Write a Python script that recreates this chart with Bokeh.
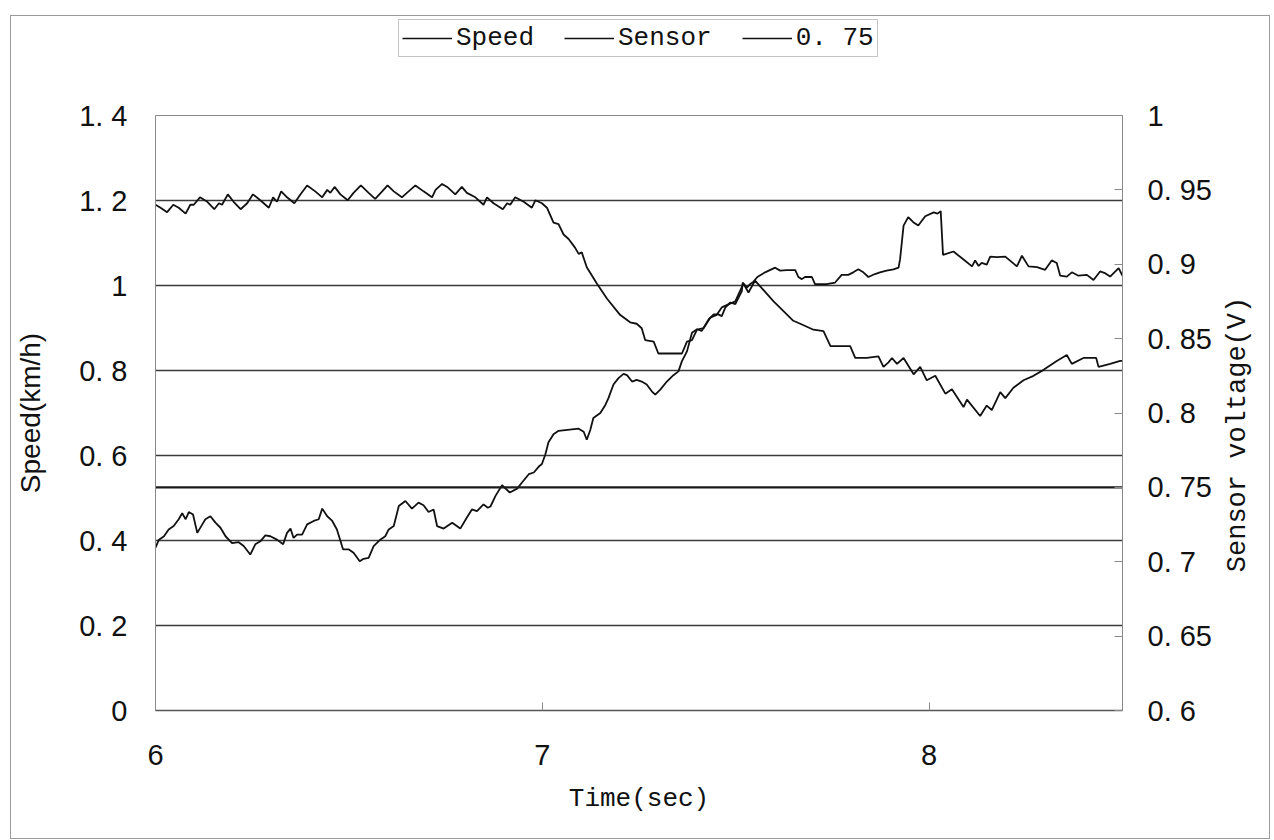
import math

from bokeh.plotting import figure
from bokeh.layouts import column, row
from bokeh.models import (Range1d, LinearAxis, FixedTicker, Legend, LegendItem,
                          Label)
from bokeh.embed import file_html
from bokeh.resources import INLINE

# --- measured series -------------------------------------------------------
time_speed = [
    6.000, 6.009, 6.022, 6.034, 6.047, 6.060, 6.069, 6.078, 6.086, 6.097,
    6.108, 6.121, 6.129, 6.142, 6.155, 6.168, 6.181, 6.198, 6.215, 6.228,
    6.245, 6.258, 6.271, 6.284, 6.297, 6.314, 6.330, 6.340, 6.349, 6.357,
    6.366, 6.379, 6.392, 6.409, 6.422, 6.431, 6.444, 6.457, 6.469, 6.485,
    6.500, 6.512, 6.528, 6.538, 6.551, 6.564, 6.581, 6.594, 6.603, 6.616,
    6.629, 6.646, 6.663, 6.680, 6.693, 6.706, 6.719, 6.728, 6.745, 6.767,
    6.788, 6.805, 6.818, 6.831, 6.848, 6.859, 6.866, 6.879, 6.896, 6.916,
    6.935, 6.947, 6.965, 6.978, 6.991, 6.999, 7.008, 7.016, 7.029, 7.042,
    7.094, 7.107, 7.115, 7.124, 7.132, 7.150, 7.163, 7.171, 7.184, 7.197,
    7.210, 7.219, 7.232, 7.244, 7.257, 7.270, 7.283, 7.292, 7.305, 7.322,
    7.339, 7.352, 7.361, 7.374, 7.387, 7.400, 7.412, 7.430, 7.443, 7.455,
    7.464, 7.473, 7.486, 7.499, 7.507, 7.516, 7.518, 7.529, 7.537, 7.546,
    7.556, 7.576, 7.602, 7.615, 7.632, 7.654, 7.662, 7.671, 7.679, 7.697,
    7.705, 7.735, 7.757, 7.774, 7.791, 7.804, 7.817, 7.830, 7.843, 7.860,
    7.873, 7.890, 7.908, 7.921, 7.925, 7.934, 7.946, 7.959, 7.972, 7.990,
    8.012, 8.022, 8.030, 8.036, 8.063, 8.089, 8.111, 8.119, 8.128, 8.136,
    8.149, 8.158, 8.175, 8.197, 8.227, 8.240, 8.257, 8.279, 8.300, 8.317,
    8.330, 8.339, 8.356, 8.369, 8.386, 8.408, 8.425, 8.442, 8.455, 8.468,
    8.490, 8.500,
]
speed_kmh = [
    0.383, 0.402, 0.410, 0.426, 0.434, 0.450, 0.464, 0.450, 0.467, 0.461,
    0.418, 0.438, 0.450, 0.457, 0.442, 0.430, 0.410, 0.394, 0.396, 0.387,
    0.367, 0.391, 0.398, 0.412, 0.410, 0.402, 0.391, 0.418, 0.428, 0.406,
    0.414, 0.414, 0.438, 0.446, 0.450, 0.475, 0.457, 0.446, 0.426, 0.379,
    0.379, 0.371, 0.351, 0.357, 0.359, 0.387, 0.402, 0.410, 0.426, 0.434,
    0.481, 0.493, 0.475, 0.489, 0.483, 0.467, 0.473, 0.434, 0.428, 0.442,
    0.428, 0.454, 0.473, 0.469, 0.485, 0.477, 0.480, 0.505, 0.530, 0.513,
    0.522, 0.536, 0.556, 0.560, 0.574, 0.580, 0.603, 0.631, 0.650, 0.658,
    0.663, 0.656, 0.637, 0.660, 0.688, 0.700, 0.719, 0.735, 0.767, 0.782,
    0.792, 0.789, 0.774, 0.778, 0.774, 0.767, 0.751, 0.743, 0.755, 0.774,
    0.789, 0.798, 0.822, 0.845, 0.889, 0.897, 0.893, 0.920, 0.932, 0.932,
    0.928, 0.948, 0.960, 0.956, 0.971, 0.987, 1.007, 0.995, 1.003, 1.009,
    1.020, 1.031, 1.042, 1.035, 1.036, 1.036, 1.020, 1.015, 1.020, 1.020,
    1.003, 1.003, 1.007, 1.025, 1.025, 1.031, 1.038, 1.031, 1.020, 1.027,
    1.031, 1.035, 1.038, 1.042, 1.062, 1.141, 1.161, 1.149, 1.141, 1.163,
    1.172, 1.169, 1.175, 1.072, 1.080, 1.061, 1.045, 1.059, 1.046, 1.053,
    1.049, 1.068, 1.067, 1.068, 1.045, 1.070, 1.045, 1.043, 1.037, 1.059,
    1.053, 1.023, 1.021, 1.031, 1.023, 1.025, 1.013, 1.033, 1.029, 1.021,
    1.041, 1.023,
]

time_sensor = [
    6.000, 6.013, 6.030, 6.046, 6.060, 6.078, 6.090, 6.099, 6.115, 6.134,
    6.152, 6.164, 6.172, 6.187, 6.202, 6.220, 6.237, 6.252, 6.271, 6.293,
    6.304, 6.314, 6.325, 6.340, 6.359, 6.375, 6.392, 6.413, 6.431, 6.444,
    6.452, 6.463, 6.478, 6.497, 6.512, 6.531, 6.551, 6.568, 6.586, 6.600,
    6.616, 6.637, 6.650, 6.672, 6.693, 6.715, 6.724, 6.741, 6.754, 6.775,
    6.792, 6.805, 6.827, 6.848, 6.857, 6.874, 6.898, 6.909, 6.917, 6.930,
    6.952, 6.973, 6.982, 6.999, 7.012, 7.029, 7.042, 7.055, 7.068, 7.085,
    7.094, 7.102, 7.115, 7.141, 7.167, 7.201, 7.227, 7.244, 7.257, 7.266,
    7.288, 7.300, 7.361, 7.374, 7.387, 7.400, 7.417, 7.434, 7.451, 7.464,
    7.481, 7.499, 7.511, 7.520, 7.533, 7.550, 7.598, 7.649, 7.667, 7.701,
    7.727, 7.745, 7.796, 7.809, 7.839, 7.869, 7.882, 7.895, 7.904, 7.917,
    7.934, 7.960, 7.977, 7.994, 8.016, 8.042, 8.059, 8.089, 8.098, 8.132,
    8.149, 8.162, 8.184, 8.197, 8.218, 8.244, 8.270, 8.296, 8.330, 8.356,
    8.369, 8.399, 8.432, 8.438, 8.468, 8.494, 8.500,
]
sensor_volt = [
    0.940, 0.938, 0.935, 0.940, 0.938, 0.934, 0.940, 0.940, 0.945, 0.942,
    0.937, 0.941, 0.940, 0.947, 0.942, 0.937, 0.941, 0.947, 0.943, 0.938,
    0.945, 0.942, 0.949, 0.945, 0.941, 0.947, 0.953, 0.949, 0.945, 0.950,
    0.948, 0.952, 0.947, 0.943, 0.948, 0.953, 0.948, 0.944, 0.949, 0.953,
    0.949, 0.945, 0.948, 0.953, 0.949, 0.945, 0.950, 0.954, 0.952, 0.947,
    0.952, 0.948, 0.945, 0.940, 0.945, 0.941, 0.937, 0.941, 0.940, 0.945,
    0.942, 0.938, 0.943, 0.941, 0.938, 0.928, 0.927, 0.920, 0.917, 0.911,
    0.907, 0.908, 0.898, 0.887, 0.877, 0.866, 0.861, 0.860, 0.857, 0.849,
    0.848, 0.840, 0.840, 0.848, 0.849, 0.856, 0.857, 0.864, 0.866, 0.871,
    0.873, 0.875, 0.882, 0.887, 0.881, 0.889, 0.875, 0.862, 0.860, 0.856,
    0.855, 0.845, 0.845, 0.837, 0.837, 0.838, 0.831, 0.834, 0.837, 0.833,
    0.837, 0.826, 0.831, 0.822, 0.825, 0.813, 0.816, 0.804, 0.809, 0.798,
    0.805, 0.802, 0.814, 0.810, 0.817, 0.822, 0.825, 0.829, 0.835, 0.839,
    0.833, 0.837, 0.837, 0.831, 0.833, 0.835, 0.835,
]

threshold_time = [6.0, 8.5]
threshold_volt = [0.75, 0.75]

series_names = ["Speed", "Sensor", "0. 75"]

# --- axis ticks and their printed labels ----------------------------------
speed_ticks = [0, 0.2, 0.4, 0.6, 0.8, 1.0, 1.2, 1.4]
speed_tick_labels = ["0", "0. 2", "0. 4", "0. 6", "0. 8", "1", "1. 2", "1. 4"]
volt_ticks = [0.6, 0.65, 0.7, 0.75, 0.8, 0.85, 0.9, 0.95, 1.0]
volt_tick_labels = ["0. 6", "0. 65", "0. 7", "0. 75", "0. 8", "0. 85",
                    "0. 9", "0. 95", "1"]
time_ticks = [6, 7, 8]
time_tick_labels = ["6", "7", "8"]

TICK_FONT = "Liberation Sans"
MONO_FONT = "Liberation Mono"
SANS_FONT = "Liberation Sans"
INK = "#111111"
GRID = "#3a3a3a"
FRAME = "#8a8a8a"
TICK_SIZE = "29px"

TOTAL_W, TOTAL_H = 1258, 822
TITLE_W = 50          # strip on the right that carries the voltage axis title
LEGEND_H = 60         # strip on top that carries the legend
MAIN_W = TOTAL_W - TITLE_W


def bare_figure(width, height, **kw):
    """A figure with no axes, no grid and a frame filling the whole canvas."""
    return figure(width=width, height=height, output_backend="svg",
                  toolbar_location=None, x_axis_type=None, y_axis_type=None,
                  x_range=Range1d(0, 1), y_range=Range1d(0, 1),
                  min_border=0, min_border_left=0, min_border_right=0,
                  min_border_top=0, min_border_bottom=0,
                  outline_line_color=None, background_fill_color="white",
                  border_fill_color="white", **kw)


# --- legend strip across the top ------------------------------------------
# The strip repeats the three series on ranges that keep them out of view,
# so only the legend keys are visible.
p_leg = bare_figure(MAIN_W, LEGEND_H)
key_speed = p_leg.line(time_speed, speed_kmh, line_color=INK, line_width=1.3)
key_sensor = p_leg.line(time_sensor, sensor_volt, line_color=INK, line_width=1.3)
key_thr = p_leg.line(threshold_time, threshold_volt, line_color=INK,
                     line_width=1.3)
legend = Legend(items=[LegendItem(label=series_names[0], renderers=[key_speed]),
                       LegendItem(label=series_names[1], renderers=[key_sensor]),
                       LegendItem(label=series_names[2], renderers=[key_thr])],
                orientation="horizontal", location=(243, 19),
                label_text_font=MONO_FONT, label_text_font_size="26px",
                label_text_color=INK, glyph_width=50, glyph_height=20,
                label_standoff=4, spacing=30, padding=3, margin=0,
                border_line_color=FRAME, border_line_width=1,
                background_fill_color="white", background_fill_alpha=1.0)
p_leg.add_layout(legend)

# --- main chart ------------------------------------------------------------
p = figure(width=MAIN_W, height=TOTAL_H - LEGEND_H, output_backend="svg",
           toolbar_location=None,
           x_range=Range1d(6, 8.5), y_range=Range1d(0, 1.4),
           min_border_left=144, min_border_right=MAIN_W - 1111,
           min_border_top=99 - LEGEND_H, min_border_bottom=128,
           background_fill_color="white", border_fill_color="white")
p.extra_y_ranges = {"volt": Range1d(0.6, 1.0)}

p.outline_line_color = FRAME
p.outline_line_width = 1
p.xgrid.visible = False
p.ygrid.ticker = FixedTicker(ticks=speed_ticks[1:-1])
p.ygrid.grid_line_color = GRID
p.ygrid.grid_line_width = 1.3

# bottom axis
xa = p.xaxis[0]
xa.ticker = FixedTicker(ticks=time_ticks)
xa.major_label_overrides = dict(zip(time_ticks, time_tick_labels))
xa.major_tick_in = 8
xa.major_tick_out = 0
xa.major_tick_line_color = FRAME
xa.minor_tick_line_color = None
xa.axis_line_color = "#555555"
xa.axis_line_width = 1.3
xa.major_label_standoff = 34
xa.major_label_text_font = TICK_FONT
xa.major_label_text_font_size = TICK_SIZE
xa.major_label_text_color = INK
xa.axis_label = "Time(sec)"
xa.axis_label_text_font = MONO_FONT
xa.axis_label_text_font_size = "26px"
xa.axis_label_text_font_style = "normal"
xa.axis_label_text_color = INK
xa.axis_label_standoff = 16

# left axis
ya = p.yaxis[0]
ya.ticker = FixedTicker(ticks=speed_ticks)
ya.major_label_overrides = dict(zip(speed_ticks, speed_tick_labels))
ya.major_tick_in = 0
ya.major_tick_out = 0
ya.minor_tick_line_color = None
ya.axis_line_color = FRAME
ya.major_label_standoff = 28
ya.major_label_text_font = TICK_FONT
ya.major_label_text_font_size = TICK_SIZE
ya.major_label_text_color = INK
ya.axis_label = "Speed(km/h)"
ya.axis_label_text_font = SANS_FONT
ya.axis_label_text_font_size = "28px"
ya.axis_label_text_font_style = "normal"
ya.axis_label_text_color = INK
ya.axis_label_standoff = 30

# right axis (sensor voltage); its title sits in the strip to the right
ra = LinearAxis(y_range_name="volt", ticker=FixedTicker(ticks=volt_ticks))
ra.major_label_overrides = dict(zip(volt_ticks, volt_tick_labels))
ra.major_tick_in = 8
ra.major_tick_out = 0
ra.major_tick_line_color = FRAME
ra.minor_tick_line_color = None
ra.axis_line_color = FRAME
ra.major_label_standoff = 25
ra.major_label_text_font = TICK_FONT
ra.major_label_text_font_size = TICK_SIZE
ra.major_label_text_color = INK
p.add_layout(ra, "right")

# series
p.line(time_speed, speed_kmh, line_color=INK, line_width=1.8)
p.line(time_sensor, sensor_volt, y_range_name="volt",
       line_color=INK, line_width=1.8)
p.line(threshold_time, threshold_volt, y_range_name="volt",
       line_color="#1a1a1a", line_width=2.4)

# --- right-hand strip with the voltage axis title --------------------------
p_rt = bare_figure(TITLE_W, TOTAL_H)
p_rt.add_layout(Label(x=18, y=404, x_units="screen", y_units="screen",
                      text="Sensor voltage(V)", angle=math.pi / 2,
                      text_align="center", text_baseline="middle",
                      text_font=MONO_FONT, text_font_size="27px",
                      text_color=INK))

chart = row(column(p_leg, p, spacing=0), p_rt, spacing=0)
# thin frame around the whole chart area
chart.styles = {"margin-left": "10px", "margin-top": "15px",
                "border": "1px solid #9a9a9a"}

open("out.html", "w").write(file_html(chart, INLINE))
